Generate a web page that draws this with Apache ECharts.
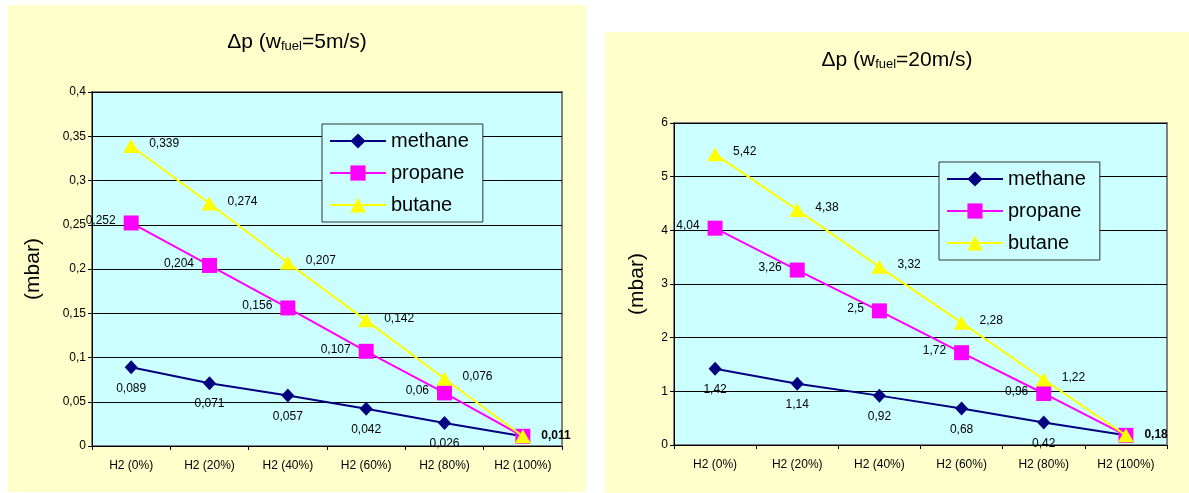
<!DOCTYPE html>
<html>
<head>
<meta charset="utf-8">
<script src="https://cdn.jsdelivr.net/npm/echarts@6/dist/echarts.min.js"></script>
<style>
html,body{margin:0;padding:0;background:#fff;}
#c{width:1189px;height:493px;}
</style>
</head>
<body>
<div id="c"></div>
<script>
var categories = ['H2 (0%)','H2 (20%)','H2 (40%)','H2 (60%)','H2 (80%)','H2 (100%)'];
var seriesNames = ['methane','propane','butane'];
var methane5 = [0.089,0.071,0.057,0.042,0.026,0.011];
var propane5 = [0.252,0.204,0.156,0.107,0.06,0.011];
var butane5 = [0.339,0.274,0.207,0.142,0.076,0.011];
var methane20 = [1.42,1.14,0.92,0.68,0.42,0.18];
var propane20 = [4.04,3.26,2.5,1.72,0.96,0.18];
var butane20 = [5.42,4.38,3.32,2.28,1.22,0.18];
var yTicks5 = {min:0,max:0.4,interval:0.05};
var yTicks20 = {min:0,max:6,interval:1};

var FONT = '"Liberation Sans", Arial, sans-serif';
function comma(v){ return String(+(+v).toFixed(4)).replace('.', ','); }

var colors = {methane:'#000080', propane:'#FF00FF', butane:'#FFFF00'};
var symbols = {methane:'diamond', propane:'rect', butane:'triangle'};
var symSizes = {methane:[13,14], propane:15, butane:[16,14]};

function makeSeries(name, data, idx){
  var lbl;
  if(name==='methane'){
    lbl = {show:true, position:'bottom', distance:8, fontSize:12, color:'#000', fontFamily:FONT,
      formatter:function(p){ return comma(p.value); }};
  } else if(name==='propane'){
    lbl = {show:true, position:'left', distance:8, offset:[0,-2], fontSize:12, color:'#000', fontFamily:FONT,
      formatter:function(p){ return p.dataIndex===5 ? '' : comma(p.value); }};
  } else {
    lbl = {show:true, position:'right', distance:10, offset:[0,-2], fontSize:12, color:'#000', fontFamily:FONT,
      formatter:function(p){ return p.dataIndex===5 ? '' : comma(p.value); }};
  }
  var d = data.map(function(v,i){
    if(name==='methane' && i===5){
      return {value:v, label:{position:'right', distance:12, offset:[0,-1], fontWeight:'bold'}};
    }
    return v;
  });
  return {
    name:name, type:'line', xAxisIndex:idx, yAxisIndex:idx, data:d,
    symbol:symbols[name], symbolSize:symSizes[name], showAllSymbol:true,
    lineStyle:{color:colors[name], width:2},
    itemStyle:{color:colors[name]},
    label:lbl, z: 3+seriesNames.indexOf(name), animation:false
  };
}

function yAxis(idx, t, gap){
  return {
    type:'value', gridIndex:idx, min:t.min, max:t.max, interval:t.interval,
    name:'(mbar)', nameLocation:'middle', nameRotate:90, nameGap:gap,
    nameTextStyle:{fontSize:21, color:'#000', fontFamily:FONT},
    axisLine:{show:true, lineStyle:{color:'#000', width:1}},
    axisTick:{show:true, length:4, lineStyle:{color:'#000'}},
    axisLabel:{fontSize:12, color:'#000', fontFamily:FONT, margin:6, formatter:comma},
    splitLine:{show:true, lineStyle:{color:'#000', width:1}}
  };
}
function xAxis(idx){
  return {
    type:'category', gridIndex:idx, data:categories, boundaryGap:true,
    axisLine:{show:true, lineStyle:{color:'#000', width:1}},
    axisTick:{show:true, length:4, lineStyle:{color:'#000'}},
    axisLabel:{fontSize:12, color:'#000', fontFamily:FONT, margin:14, interval:0},
    splitLine:{show:false}
  };
}
function legend(left, top, idx){
  return {
    show:true, orient:'vertical', left:left, top:top,
    data:seriesNames.map(function(n){ return {name:n}; }),
    backgroundColor:'#CCFFFF', borderColor:'#333', borderWidth:1,
    padding:[7,14,7,7], itemGap:12, itemWidth:56, itemHeight:19,
    textStyle:{fontSize:20, color:'#000', fontFamily:FONT},
    selectedMode:false
  };
}

var chart = echarts.init(document.getElementById('c'), null, {renderer:'canvas'});
chart.setOption({
  animation:false,
  textStyle:{fontFamily:FONT},
  graphic:[
    {type:'rect', shape:{x:8,y:5,width:578,height:487}, style:{fill:'#FFFFCC'}, z:-10, silent:true},
    {type:'rect', shape:{x:605,y:32,width:584,height:461}, style:{fill:'#FFFFCC'}, z:-10, silent:true},
    {type:'text', x:297, y:42, z:10, style:{
      text:'Δp (w{s|fuel}=5m/s)', align:'center', verticalAlign:'middle',
      font:'21px ' + FONT, fill:'#000',
      rich:{s:{fontSize:13, fontFamily:FONT, fill:'#000', padding:[9,0,0,0]}}
    }},
    {type:'text', x:897, y:60, z:10, style:{
      text:'Δp (w{s|fuel}=20m/s)', align:'center', verticalAlign:'middle',
      font:'21px ' + FONT, fill:'#000',
      rich:{s:{fontSize:13, fontFamily:FONT, fill:'#000', padding:[9,0,0,0]}}
    }}
  ],
  grid:[
    {left:92, top:92, width:470, height:354, show:true, backgroundColor:'#CCFFFF', borderColor:'#808080', borderWidth:2},
    {left:674, top:123, width:493, height:322, show:true, backgroundColor:'#CCFFFF', borderColor:'#808080', borderWidth:2}
  ],
  xAxis:[xAxis(0), xAxis(1)],
  yAxis:[yAxis(0, yTicks5, 48), yAxis(1, yTicks20, 26)],
  legend:[legend(322,124,0), legend(939,162,1)],
  series:[
    makeSeries('methane', methane5, 0),
    makeSeries('propane', propane5, 0),
    makeSeries('butane', butane5, 0),
    makeSeries('methane', methane20, 1),
    makeSeries('propane', propane20, 1),
    makeSeries('butane', butane20, 1)
  ]
});
</script>
</body>
</html>
